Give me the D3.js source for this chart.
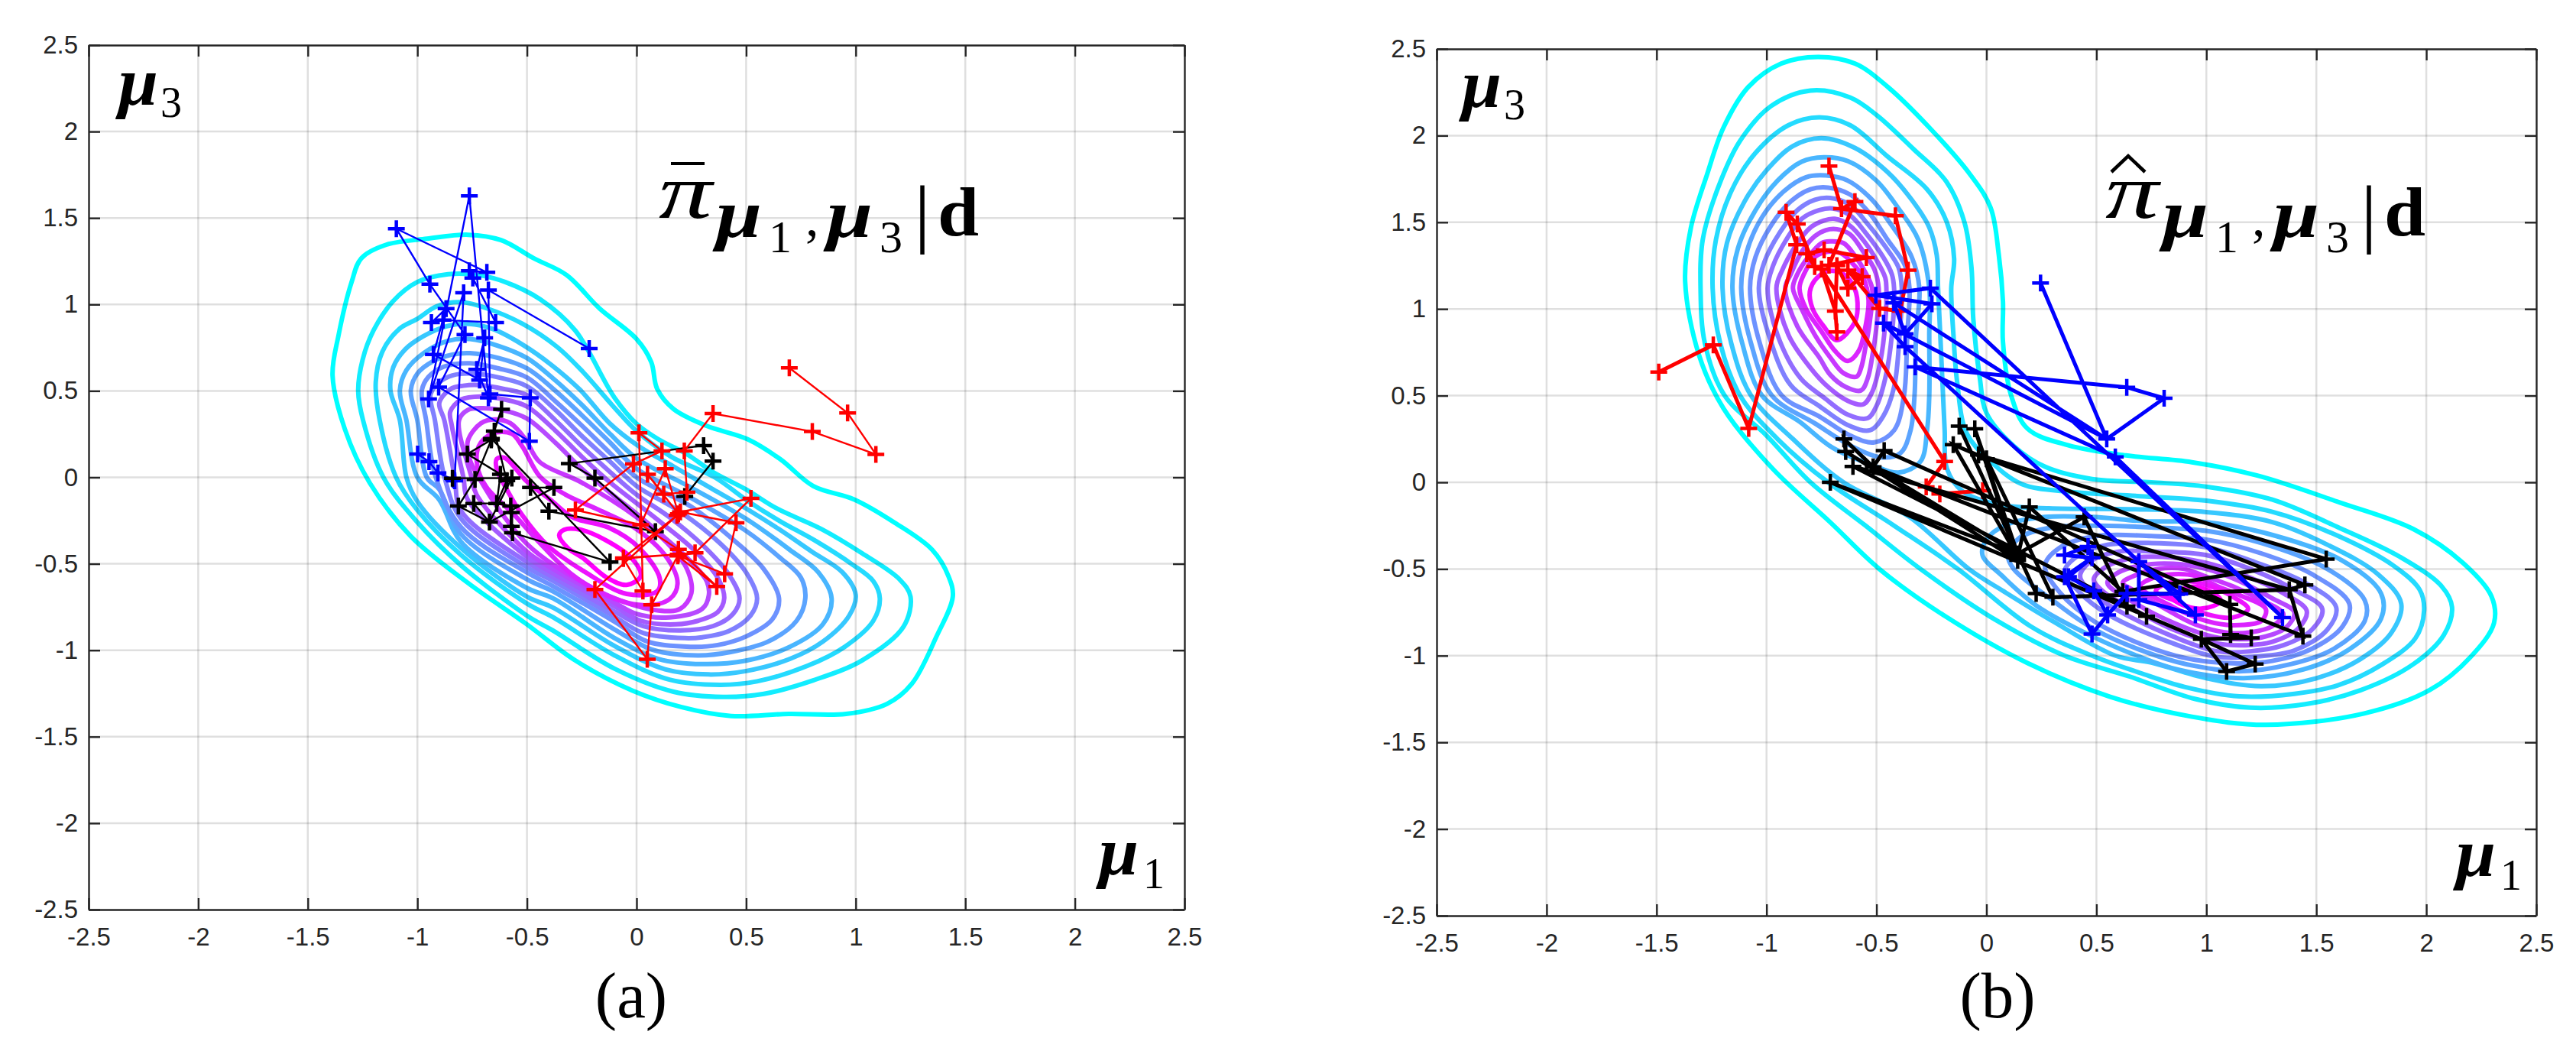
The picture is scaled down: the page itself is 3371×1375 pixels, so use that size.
<!DOCTYPE html>
<html>
<head>
<meta charset="utf-8">
<script src="https://cdn.jsdelivr.net/npm/d3@7"></script>
<style>
  html, body { margin: 0; padding: 0; background: #fff; }
  svg { display: block; }
  .tick text { font-family: "Liberation Sans", sans-serif; font-size: 33px; fill: #262626; }
</style>
</head>
<body>
<div id="chart"></div>
<script>
// Tick values and labels shared by both panels
const tickValues = [-2.5, -2, -1.5, -1, -0.5, 0, 0.5, 1, 1.5, 2, 2.5];
const tickLabels = ["-2.5", "-2", "-1.5", "-1", "-0.5", "0", "0.5", "1", "1.5", "2", "2.5"];

// Panel (a): contour loops, outermost level first
const contoursA = [
  [[[-1.387,.589],[-1.36,.82],[-1.3,1.13],[-1.256,1.267],[-1.143,1.345],[-.956,1.38],[-.768,1.403],[-.618,1.372],[-.469,1.267],[-.319,1.17],[-.169,.977],[0,.8],[.067,.667],[.094,.512],[.169,.395],[.319,.298],[.506,.221],[.656,.105],[.806,-.05],[.993,-.128],[1.18,-.264],[1.349,-.419],[1.424,-.574],[1.443,-.69],[1.368,-.922],[1.256,-1.194],[1.143,-1.31],[.956,-1.368],[.693,-1.368],[.431,-1.38],[.206,-1.329],[-.019,-1.233],[-.281,-1.058],[-.506,-.845],[-.768,-.612],[-1.03,-.341],[-1.218,-.031],[-1.331,.279]]],
  [[[-1.27,.5],[-1.25,.68],[-1.2,.85],[-1.11,1.02],[-1,1.13],[-.86,1.175],[-.72,1.17],[-.6,1.13],[-.44,1.03],[-.28,.85],[-.1,.46],[0,.31],[.1,.22],[.227,.136],[.35,.03],[.5,-.07],[.64,-.18],[.845,-.3],[1.03,-.44],[1.2,-.59],[1.25,-.69],[1.218,-.864],[1.03,-1.058],[.806,-1.174],[.581,-1.252],[.394,-1.27],[.169,-1.24],[-.1,-1.107],[-.38,-.887],[-.5,-.8],[-.8,-.51],[-1,-.26],[-1.155,0],[-1.248,.33]]],
  [[[-1.19,.55],[-1.16,.726],[-1.083,.858],[-1,.917],[-.91,.99],[-.8,1.013],[-.68,.976],[-.52,.888],[-.363,.755],[-.243,.608],[-.11,.416],[0,.268],[.157,.12],[.357,0],[.5,-.13],[.65,-.25],[.82,-.37],[.98,-.5],[1.08,-.6],[1.11,-.7],[1.08,-.83],[.95,-.98],[.78,-1.09],[.55,-1.18],[.38,-1.2],[.15,-1.17],[-.1,-1.03],[-.38,-.81],[-.5,-.73],[-.8,-.45],[-1,-.19],[-1.097,0],[-1.172,.33]]],
  [[[-1.123,.504],[-1.11,.637],[-1.056,.74],[-.976,.814],[-.87,.873],[-.763,.888],[-.656,.858],[-.523,.77],[-.39,.652],[-.256,.504],[-.123,.313],[.01,.18],[.17,.062],[.35,-.07],[.5,-.18],[.65,-.3],[.8,-.43],[.94,-.55],[1,-.68],[.97,-.8],[.85,-.95],[.7,-1.05],[.5,-1.12],[.33,-1.14],[.13,-1.11],[-.1,-.975],[-.38,-.754],[-.5,-.69],[-.8,-.41],[-1,-.14],[-1.05,0],[-1.08,.33]]],
  [[[-1.08,.5],[-1.05,.62],[-.97,.72],[-.86,.79],[-.76,.8],[-.63,.76],[-.5,.69],[-.37,.56],[-.25,.42],[-.12,.25],[0,.11],[.25,-.06],[.5,-.24],[.7,-.42],[.83,-.55],[.89,-.7],[.85,-.85],[.7,-.98],[.5,-1.06],[.3,-1.08],[.1,-1.05],[-.1,-.93],[-.38,-.7],[-.5,-.64],[-.8,-.375],[-.9,-.13],[-1,0],[-1.05,.33]]],
  [[[-1.03,.5],[-1,.6],[-.93,.67],[-.84,.71],[-.76,.718],[-.63,.69],[-.5,.63],[-.37,.5],[-.25,.36],[-.12,.2],[0,.05],[.25,-.12],[.5,-.31],[.65,-.46],[.75,-.58],[.77,-.7],[.73,-.83],[.6,-.95],[.43,-1.01],[.28,-1.03],[.08,-1],[-.1,-.88],[-.38,-.66],[-.5,-.59],[-.8,-.33],[-.9,-.07],[-.957,0],[-1,.33]]],
  [[[-.98,.5],[-.95,.58],[-.88,.64],[-.76,.66],[-.63,.63],[-.5,.578],[-.37,.44],[-.25,.3],[-.12,.14],[0,0],[.25,-.17],[.45,-.37],[.58,-.53],[.65,-.7],[.62,-.82],[.5,-.92],[.37,-.97],[.25,-.98],[.05,-.95],[-.1,-.835],[-.38,-.63],[-.5,-.55],[-.8,-.29],[-.916,0],[-.96,.33]]],
  [[[-.94,.48],[-.9,.55],[-.84,.59],[-.74,.6],[-.62,.575],[-.5,.527],[-.37,.39],[-.25,.24],[-.12,.09],[0,-.05],[.2,-.2],[.38,-.38],[.5,-.55],[.55,-.7],[.52,-.8],[.42,-.89],[.3,-.925],[.22,-.93],[.03,-.9],[-.1,-.806],[-.38,-.6],[-.5,-.52],[-.8,-.24],[-.876,0],[-.92,.33]]],
  [[[-.9,.43],[-.85,.51],[-.79,.53],[-.72,.534],[-.6,.51],[-.5,.475],[-.37,.33],[-.25,.18],[-.12,.03],[0,-.1],[.15,-.23],[.3,-.39],[.42,-.56],[.47,-.7],[.44,-.79],[.35,-.86],[.2,-.885],[.03,-.86],[-.1,-.776],[-.38,-.578],[-.5,-.49],[-.8,-.195],[-.83,0],[-.877,.33]]],
  [[[-.85,.38],[-.8,.45],[-.71,.468],[-.6,.45],[-.5,.41],[-.37,.27],[-.25,.12],[-.12,-.03],[0,-.15],[.13,-.28],[.27,-.43],[.37,-.58],[.4,-.7],[.37,-.78],[.28,-.83],[.18,-.85],[.02,-.83],[-.1,-.747],[-.38,-.556],[-.5,-.46],[-.77,-.13],[-.79,0],[-.843,.3]]],
  [[[-.81,.33],[-.77,.39],[-.7,.4],[-.6,.385],[-.5,.34],[-.37,.2],[-.25,.05],[-.12,-.09],[0,-.21],[.13,-.35],[.25,-.49],[.32,-.6],[.33,-.68],[.3,-.76],[.15,-.81],[0,-.79],[-.1,-.725],[-.38,-.53],[-.5,-.43],[-.73,-.1],[-.753,0]]],
  [[[-.77,.21],[-.71,.313],[-.643,.335],[-.576,.313],[-.509,.224],[-.443,.09],[-.25,-.03],[0,-.23],[.14,-.38],[.23,-.53],[.25,-.67],[.2,-.76],[.1,-.77],[-.1,-.7],[-.38,-.505],[-.5,-.385],[-.62,-.2],[-.72,0],[-.76,.1]]],
  [[[-.66,.253],[-.57,.253],[-.522,.18],[-.44,.003],[-.324,-.1],[-.173,-.188],[-.01,-.291],[.14,-.468],[.187,-.615],[.152,-.703],[.036,-.74],[-.127,-.688],[-.3,-.556],[-.452,-.365],[-.557,-.218],[-.685,-.056],[-.726,.062],[-.72,.18]]],
  [[[-.638,.106],[-.603,.113],[-.499,-.026],[-.394,-.129],[-.29,-.232],[-.127,-.291],[.013,-.409],[.106,-.585],[.094,-.659],[-.045,-.674],[-.243,-.541],[-.406,-.394],[-.522,-.218],[-.592,-.07],[-.638,.047]]],
  [[[-.353,-.335],[-.33,-.303],[-.255,-.303],[-.138,-.365],[-.022,-.468],[.019,-.57],[-.045,-.622],[-.138,-.578],[-.243,-.468],[-.313,-.409]]]
];

// Panel (a): the three chains
const blueA = [[-.216,.745],[-.676,1.083],[-.669,.482],[-.485,.46],[-.489,.209],[-.903,.522],[-.783,.826],[-.943,1.117],[-1.096,1.438],[-.683,1.186],[-.763,1.195],[-.747,1.153],[-.643,.895],[-.883,.91],[-.936,.895],[-.869,.976],[-.927,.711],[-.716,.563],[-.693,.807],[-.729,.625],[-.676,.46],[-.763,1.628],[-.949,.453],[-.789,1.068],[-.83,-.02],[-.836,-.012],[-.906,.025],[-.947,.091],[-.999,.135]];
const blackA = [[.22,-.11],[.349,.094],[.306,.184],[-.307,.08],[-.19,-.004],[.086,-.314],[-.4,-.196],[-.484,-.059],[-.377,-.059],[-.671,-.259],[-.743,-.151],[-.638,-.151],[-.574,-.166],[-.571,-.203],[-.571,-.284],[-.566,-.321],[-.121,-.49],[-.662,.224],[-.616,.394],[-.649,.268],[-.592,-.019],[-.638,-.151],[-.621,.018],[-.772,.135],[-.663,.217],[-.737,-.012],[-.813,-.166],[-.671,-.259],[-.569,-.004],[-.84,-.005]];
const redA = [[.697,.633],[.963,.372],[1.092,.133],[.802,.265],[.349,.369],[.218,.153],[.23,-.086],[.124,-.097],[.05,.018],[.191,-.211],[.131,.05],[.019,-.274],[.191,-.417],[.366,-.631],[.188,-.454],[.402,-.558],[.454,-.263],[.2,-.2],[.522,-.122],[.267,-.437],[.188,-.454],[.069,-.737],[.049,-1.052],[-.19,-.649],[.185,-.22],[-.06,-.466],[.19,-.445],[-.06,-.47],[.029,-.658],[.011,.257],[.116,.153],[-.014,.077],[-.279,-.189],[.019,-.274]];

// Panel (b): contour loops, a level can hold two separate loops
const contoursB = [
  [[[-1.37,1.159],[-1.344,1.468],[-1.27,1.777],[-1.195,2.048],[-1.083,2.28],[-.934,2.415],[-.765,2.454],[-.597,2.415],[-.448,2.28],[-.261,2.048],[-.075,1.777],[.019,1.584],[.056,1.314],[.075,1.043],[.075,.811],[.112,.502],[.187,.309],[.373,.213],[.635,.155],[.934,.116],[1.232,.039],[1.606,-.116],[1.942,-.27],[2.166,-.464],[2.296,-.657],[2.308,-.811],[2.203,-1.005],[2.016,-1.198],[1.718,-1.333],[1.27,-1.399],[.934,-1.352],[.56,-1.236],[.187,-1.043],[-.187,-.773],[-.485,-.502],[-.709,-.232],[-.971,.077],[-1.195,.425],[-1.307,.734]]],
  [[[-1.3,1.12],[-1.29,1.4],[-1.22,1.7],[-1.12,1.97],[-.98,2.17],[-.8,2.26],[-.62,2.22],[-.498,2.117],[-.33,1.92],[-.183,1.736],[-.1,1.5],[-.068,1.238],[-.06,.945],[-.03,.6],[0,.4],[.124,.21],[.266,.09],[.48,.019],[.75,0],[1,-.025],[1.3,-.1],[1.6,-.26],[1.88,-.43],[2.07,-.6],[2.117,-.72],[2.08,-.88],[1.94,-1.05],[1.7,-1.2],[1.45,-1.28],[1.2,-1.3],[.95,-1.25],[.65,-1.12],[.355,-1],[.05,-.8],[-.3,-.5],[-.55,-.25],[-.8,0],[-1,.27],[-1.19,.5],[-1.28,.8]]],
  [[[-1.245,1.12],[-1.23,1.4],[-1.16,1.68],[-1.05,1.9],[-.9,2.06],[-.76,2.105],[-.62,2.06],[-.45,1.88],[-.27,1.69],[-.18,1.5],[-.147,1.29],[-.16,1.12],[-.15,.85],[-.133,.576],[-.09,.283],[.018,.122],[.16,-.01],[.373,-.054],[.7,-.08],[1,-.106],[1.3,-.17],[1.6,-.31],[1.85,-.48],[1.97,-.62],[1.99,-.74],[1.95,-.9],[1.8,-1.05],[1.6,-1.17],[1.4,-1.22],[1.15,-1.235],[.9,-1.18],[.7,-1.1],[.48,-1],[.2,-.83],[-.13,-.5],[-.42,-.25],[-.72,0],[-.95,.25],[-1.12,.5],[-1.21,.8]]],
  [[[-1.2,1.12],[-1.18,1.38],[-1.1,1.62],[-1,1.8],[-.88,1.94],[-.75,1.985],[-.6,1.93],[-.45,1.79],[-.34,1.63],[-.26,1.47],[-.226,1.31],[-.22,1.12],[-.21,.85],[-.2,.576],[-.19,.3],[-.18,.08],[-.107,-.054],[.053,-.128],[.284,-.15],[.65,-.155],[1,-.172],[1.3,-.23],[1.55,-.36],[1.78,-.53],[1.886,-.7],[1.84,-.87],[1.7,-1.02],[1.5,-1.13],[1.25,-1.176],[1,-1.13],[.75,-1.04],[.586,-1],[.3,-.8],[.08,-.63],[-.08,-.5],[-.35,-.2],[-.65,0],[-.88,.25],[-1.07,.5],[-1.16,.8]]],
  [[[-1.155,1.12],[-1.13,1.35],[-1.05,1.57],[-.95,1.74],[-.84,1.85],[-.74,1.875],[-.63,1.853],[-.5,1.74],[-.4,1.58],[-.31,1.4],[-.26,1.12],[-.26,.85],[-.26,.5],[-.27,.3],[-.3,.12],[-.4,.056],[-.52,.1],[-.7,.2],[-.85,.35],[-1.02,.5],[-1.11,.8]],
   [[-.018,-.42],[0,-.33],[.09,-.245],[.266,-.2],[.48,-.2],[.728,-.225],[1,-.23],[1.26,-.29],[1.616,-.45],[1.794,-.64],[1.794,-.787],[1.65,-.963],[1.44,-1.08],[1.17,-1.13],[.87,-1.08],[.684,-1],[.5,-.9],[.23,-.714],[.07,-.538]]],
  [[[-1.115,1.12],[-1.09,1.33],[-1.02,1.53],[-.92,1.68],[-.82,1.76],[-.73,1.77],[-.63,1.74],[-.52,1.63],[-.43,1.48],[-.34,1.3],[-.305,1.12],[-.32,.85],[-.327,.5],[-.345,.3],[-.39,.17],[-.47,.143],[-.6,.2],[-.78,.34],[-.975,.5],[-1.07,.8]],
   [[.098,-.42],[.15,-.32],[.3,-.26],[.5,-.25],[.75,-.26],[1,-.28],[1.25,-.35],[1.55,-.5],[1.72,-.68],[1.72,-.8],[1.58,-.96],[1.38,-1.05],[1.15,-1.09],[.95,-1.06],[.773,-1],[.5,-.855],[.3,-.68],[.124,-.5]]],
  [[[-1.075,1.12],[-1.05,1.3],[-.98,1.48],[-.89,1.62],[-.8,1.69],[-.72,1.7],[-.62,1.66],[-.53,1.55],[-.45,1.4],[-.37,1.25],[-.35,1.12],[-.36,.85],[-.375,.5],[-.42,.3],[-.51,.23],[-.62,.27],[-.76,.38],[-.93,.5],[-1.03,.8]],
   [[.266,-.48],[.33,-.38],[.5,-.31],[.75,-.31],[1,-.33],[1.25,-.41],[1.48,-.53],[1.65,-.7],[1.62,-.83],[1.48,-.96],[1.3,-1.03],[1.12,-1.044],[.86,-1],[.5,-.81],[.33,-.63]]],
  [[[-1.035,1.12],[-1.01,1.27],[-.94,1.44],[-.86,1.57],[-.78,1.63],[-.71,1.64],[-.62,1.6],[-.54,1.49],[-.46,1.36],[-.4,1.24],[-.385,1.12],[-.395,.85],[-.42,.55],[-.47,.38],[-.53,.3],[-.63,.33],[-.76,.44],[-.89,.56],[-.99,.85]],
   [[.355,-.516],[.42,-.42],[.55,-.36],[.75,-.35],[1,-.375],[1.22,-.46],[1.45,-.58],[1.59,-.72],[1.55,-.85],[1.4,-.97],[1.22,-1.005],[1.05,-1.007],[.85,-.93],[.55,-.76],[.42,-.63]]],
  [[[-.995,1.12],[-.97,1.25],[-.91,1.4],[-.84,1.52],[-.76,1.57],[-.7,1.58],[-.62,1.54],[-.55,1.44],[-.47,1.3],[-.43,1.2],[-.42,1.12],[-.43,.85],[-.46,.6],[-.5,.44],[-.54,.37],[-.63,.39],[-.74,.49],[-.845,.6],[-.95,.85]],
   [[.426,-.54],[.48,-.45],[.6,-.4],[.78,-.4],[1,-.42],[1.2,-.5],[1.4,-.62],[1.527,-.73],[1.48,-.85],[1.35,-.94],[1.2,-.975],[1.05,-.975],[.85,-.89],[.6,-.74],[.48,-.64]]],
  [[[-.955,1.12],[-.93,1.22],[-.87,1.36],[-.8,1.47],[-.74,1.51],[-.69,1.52],[-.62,1.48],[-.55,1.38],[-.49,1.26],[-.46,1.18],[-.455,1.12],[-.465,.85],[-.49,.65],[-.52,.52],[-.56,.45],[-.63,.47],[-.72,.55],[-.8,.66],[-.9,.85]],
   [[.488,-.56],[.54,-.49],[.65,-.44],[.8,-.43],[1,-.465],[1.18,-.54],[1.35,-.64],[1.456,-.74],[1.42,-.84],[1.3,-.92],[1.18,-.94],[1.05,-.93],[.85,-.85],[.65,-.72],[.54,-.64]]],
  [[[-.915,1.12],[-.89,1.2],[-.84,1.33],[-.78,1.42],[-.73,1.455],[-.68,1.46],[-.62,1.43],[-.56,1.33],[-.51,1.23],[-.49,1.12],[-.5,.9],[-.52,.72],[-.54,.6],[-.57,.53],[-.64,.55],[-.71,.62],[-.76,.72],[-.86,.9]],
   [[.55,-.58],[.6,-.52],[.7,-.48],[.85,-.47],[1,-.5],[1.15,-.57],[1.3,-.67],[1.4,-.75],[1.36,-.84],[1.25,-.895],[1.15,-.905],[1.03,-.89],[.85,-.81],[.68,-.7]]],
  [[[-.88,1.12],[-.86,1.2],[-.81,1.3],[-.75,1.38],[-.71,1.39],[-.65,1.38],[-.6,1.31],[-.55,1.21],[-.52,1.12],[-.53,.93],[-.55,.78],[-.57,.66],[-.59,.61],[-.65,.63],[-.71,.72],[-.78,.85],[-.84,1]],
   [[.62,-.58],[.67,-.54],[.78,-.5],[.9,-.5],[1,-.545],[1.12,-.6],[1.25,-.68],[1.35,-.76],[1.3,-.83],[1.2,-.865],[1.1,-.868],[.95,-.82],[.8,-.72],[.68,-.63]]],
  [[[-.85,1.12],[-.83,1.2],[-.78,1.3],[-.72,1.33],[-.66,1.32],[-.6,1.25],[-.56,1.18],[-.536,1.05],[-.55,.9],[-.58,.76],[-.63,.7],[-.69,.76],[-.75,.87],[-.82,1]],
   [[.7,-.6],[.76,-.55],[.85,-.53],[.95,-.54],[1.05,-.6],[1.15,-.65],[1.27,-.73],[1.25,-.8],[1.12,-.824],[1,-.8],[.85,-.72]]],
  [[[-.803,1.1],[-.77,1.18],[-.71,1.22],[-.65,1.2],[-.6,1.12],[-.586,1],[-.6,.92],[-.68,.82],[-.74,.9],[-.79,1]],
   [[.77,-.626],[.83,-.58],[.92,-.57],[1.02,-.6],[1.12,-.66],[1.19,-.73],[1.12,-.78],[1,-.76],[.87,-.69]]],
  [[[.844,-.663],[.924,-.604],[1.012,-.626],[1.066,-.685],[.977,-.729],[.879,-.7]]]
];

// Panel (b): the three chains
const redB = [[-1.49,.636],[-1.242,.793],[-1.081,.311],[-.863,1.37],[-.911,1.557],[-.86,1.49],[-.781,1.245],[-.817,1.318],[-.738,1.34],[-.546,1.296],[-.716,1.252],[-.598,1.619],[-.659,1.578],[-.716,1.824],[-.659,1.578],[-.414,1.538],[-.356,1.223],[-.392,.988],[-.486,1.003],[-.63,1.223],[-.565,1.186],[-.63,1.12],[-.68,1.25],[-.687,.988],[-.68,.867],[-.687,.988],[-.75,1.23],[-.19,.12],[-.274,-.026],[-.212,-.067],[-.017,-.048]];
const blackB = [[-.124,.324],[.226,-.641],[.302,-.663],[1.377,-.619],[1.439,-.887],[-.515,.089],[.142,-.413],[-.71,0],[.977,-.905],[1.092,-1.091],[1.222,-1.048],[.977,-.905],[1.204,-.897],[1.11,-.878],[1.107,-.704],[-.465,.183],[-.515,.089],[-.648,.25],[-.64,.177],[.142,-.45],[-.053,.309],[.142,-.413],[.444,-.2],[.639,-.714],[.728,-.773],[-.607,.092],[1.377,-.619],[1.448,-.592],[-.036,.158],[1.545,-.443],[.62,-.63],[.195,-.142],[.142,-.43],[-.151,.217],[0,.136],[.302,-.663]];
const blueB = [[.246,1.15],[.547,.25],[.808,.485],[.638,.548],[-.324,.666],[.586,.147],[1.346,-.78],[-.255,1.12],[-.503,1.079],[-.248,1.029],[-.37,.856],[-.421,1.035],[.547,.25],[-.468,.918],[-.37,.783],[.693,-.457],[.95,-.765],[.693,-.677],[.693,-.457],[.879,-.644],[.639,-.641],[.551,-.765],[.48,-.875],[.355,-.545],[.48,-.435],[.462,-.37],[.355,-.42],[.48,-.435],[.373,-.545],[.488,-.626],[.551,-.765]];

const svg = d3.select("#chart").append("svg").attr("width", 3371).attr("height", 1375);
const levelColor = d3.scaleSequential(d3.interpolateRgb("#00ffff", "#ff00ff")).domain([0, 14]);
const serif = '"Liberation Serif", serif';

// Put one piece of the math label on the page
function mathText(x, y, str, size, opts) {
  const o = opts || {};
  const t = svg.append("text").attr("x", x).attr("y", y).text(str)
    .style("font-family", serif).style("font-size", size + "px").style("fill", "#000")
    .style("font-weight", o.bold ? "bold" : "normal")
    .style("font-style", o.italic ? "italic" : "normal");
  if (o.width) t.attr("textLength", o.width).attr("lengthAdjust", "spacingAndGlyphs");
  return t;
}

// Draw one panel: box, contours, grid, chains
function drawPanel(p) {
  const x = d3.scaleLinear().domain([-2.5, 2.5]).range([p.left, p.right]);
  const y = d3.scaleLinear().domain([-2.5, 2.5]).range([p.bottom, p.top]);
  const g = svg.append("g");

  const line = d3.line().x((d) => x(d[0])).y((d) => y(d[1])).curve(d3.curveCatmullRomClosed.alpha(0.5));
  p.contours.forEach((loops, i) => {
    g.append("g").selectAll("path").data(loops).enter().append("path")
      .attr("d", line)
      .attr("fill", "none")
      .attr("stroke", levelColor(i))
      .attr("stroke-width", 6)
      .attr("stroke-linejoin", "round");
  });

  // Grid lines
  g.append("g").selectAll("line").data(tickValues.slice(1, -1)).enter().append("line")
    .attr("x1", (d) => x(d)).attr("x2", (d) => x(d)).attr("y1", p.top).attr("y2", p.bottom)
    .attr("stroke", "#262626").attr("stroke-opacity", 0.15).attr("stroke-width", 2.5);
  g.append("g").selectAll("line").data(tickValues.slice(1, -1)).enter().append("line")
    .attr("y1", (d) => y(d)).attr("y2", (d) => y(d)).attr("x1", p.left).attr("x2", p.right)
    .attr("stroke", "#262626").attr("stroke-opacity", 0.15).attr("stroke-width", 2.5);

  // Chains with + markers
  const pathLine = d3.line().x((d) => x(d[0])).y((d) => y(d[1]));
  p.chains.forEach((c) => {
    g.append("path").attr("d", pathLine(c.points)).attr("fill", "none")
      .attr("stroke", c.color).attr("stroke-width", p.lineWidth).attr("stroke-linejoin", "miter");
    g.append("path")
      .attr("d", c.points.map((d) => `M${x(d[0]) - 11},${y(d[1])}h22M${x(d[0])},${y(d[1]) - 11}v22`).join(""))
      .attr("fill", "none").attr("stroke", c.color).attr("stroke-width", p.markWidth);
  });

  // Axes on all four sides, ticks pointing inward
  const fmt = (d) => tickLabels[tickValues.indexOf(d)];
  const axes = [
    [d3.axisBottom(x).tickFormat(fmt).tickPadding(24), 0, p.bottom],
    [d3.axisTop(x).tickFormat(""), 0, p.top],
    [d3.axisLeft(y).tickFormat(fmt).tickPadding(14), p.left, 0],
    [d3.axisRight(y).tickFormat(""), p.right, 0]
  ];
  axes.forEach(([axis, tx, ty]) => {
    const a = g.append("g").attr("transform", `translate(${tx},${ty})`)
      .call(axis.tickValues(tickValues).tickSizeInner(-15).tickSizeOuter(0));
    a.selectAll("path,line").attr("stroke", "#262626").attr("stroke-width", 2.4);
  });
  g.selectAll(".tick text").attr("fill", "#262626");
}

drawPanel({
  left: 116, right: 1550, top: 59, bottom: 1190,
  contours: contoursA, lineWidth: 2.4, markWidth: 4.5,
  chains: [
    { points: blueA, color: "#0000ff" },
    { points: blackA, color: "#000000" },
    { points: redA, color: "#ff0000" }
  ]
});
drawPanel({
  left: 1880, right: 3319, top: 64, bottom: 1198,
  contours: contoursB, lineWidth: 5, markWidth: 4.5,
  chains: [
    { points: redB, color: "#ff0000" },
    { points: blackB, color: "#000000" },
    { points: blueB, color: "#0000ff" }
  ]
});

// Math labels, dx moves the whole title to the second panel
function axisLabels(mu3x, mu3y, mu1x, mu1y) {
  mathText(mu3x, mu3y, "μ", 88, { bold: true, italic: true, width: 52 });
  mathText(mu3x + 55, mu3y + 16, "3", 56);
  mathText(mu1x, mu1y, "μ", 88, { bold: true, italic: true, width: 52 });
  mathText(mu1x + 58, mu1y + 18, "1", 56);
}
function titleLabel(dx, dy) {
  mathText(862 + dx, 285 + dy, "π", 102, { italic: true, width: 70 });
  mathText(937 + dx, 310 + dy, "μ", 88, { bold: true, italic: true, width: 60 });
  mathText(1006 + dx, 330 + dy, "1", 60);
  mathText(1054 + dx, 308 + dy, ",", 70);
  mathText(1082 + dx, 310 + dy, "μ", 88, { bold: true, italic: true, width: 60 });
  mathText(1151 + dx, 330 + dy, "3", 60);
  mathText(1196 + dx, 312 + dy, "|", 100, { width: 22 });
  mathText(1227 + dx, 308 + dy, "d", 92, { bold: true, width: 54 });
}
axisLabels(155, 137, 1438, 1144);
axisLabels(1913, 140, 3214, 1146);
titleLabel(0, 0);
titleLabel(1893, 0);

// Bar and hat accents over the two pi signs
svg.append("line").attr("x1", 878).attr("x2", 922).attr("y1", 214).attr("y2", 214).attr("stroke", "#000").attr("stroke-width", 4);
svg.append("path").attr("d", "M2763,225L2785,204L2807,225").attr("fill", "none").attr("stroke", "#000").attr("stroke-width", 4.5);

mathText(826, 1331, "(a)", 85).attr("text-anchor", "middle");
mathText(2614, 1331, "(b)", 85).attr("text-anchor", "middle");
</script>
</body>
</html>
